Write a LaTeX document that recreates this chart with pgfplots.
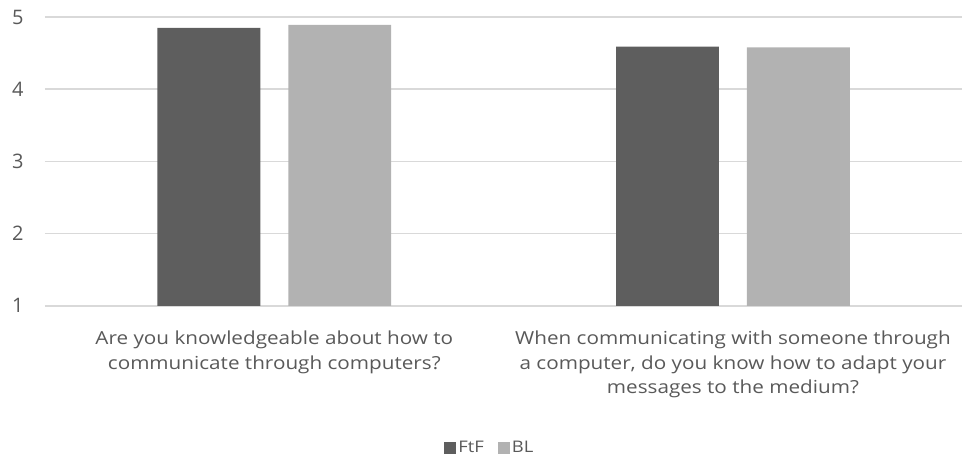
\documentclass[border=0pt]{standalone}
\usepackage{fontspec}
\setmainfont{Open Sans}[FakeStretch=1.15]
\newfontfamily\tickfont{Open Sans}
\usepackage{pgfplots}
\pgfplotsset{compat=1.18}
\definecolor{ftf}{HTML}{5E5E5E}
\definecolor{bl}{HTML}{B2B2B2}
\definecolor{gridc}{HTML}{D9D9D9}
\definecolor{txt}{HTML}{595959}
\begin{document}
\begin{tikzpicture}
\begin{axis}[
  scale only axis,
  width=918pt, height=289pt,
  xmin=-0.5, xmax=1.5,
  ymin=1, ymax=5,
  ybar=28pt, bar width=103pt,
  xtick=data,
  xticklabels={{Are you knowledgeable about how to\\communicate through computers?},{When communicating with someone through\\a computer, do you know how to adapt your\\messages to the medium?}},
  xticklabel style={align=center, font=\fontsize{18}{24.5}\selectfont, text=txt, yshift=-22pt},
  ytick={1,2,3,4,5},
  yticklabel style={font=\tickfont\fontsize{20}{24}\selectfont, text=txt, xshift=-18pt},
  /pgf/number format/assume math mode=true,
  major tick length=0pt,
  axis line style={draw=none},
  ymajorgrids, grid style={gridc, line width=1.5pt},
  legend style={at={(0.485,-0.491)}, anchor=center, draw=none, legend columns=2,
    font=\fontsize{16}{18}\selectfont, text=txt,
    /tikz/every even column/.append style={column sep=12pt}},
  legend image code/.code={\fill[#1] (0pt,-6pt) rectangle (12pt,6pt);},
]
\addplot[fill=ftf, draw=none] coordinates {(0,4.85) (1,4.59)};
\addplot[fill=bl, draw=none] coordinates {(0,4.89) (1,4.58)};
\legend{FtF, BL}
\end{axis}
\path[use as bounding box] (-45pt,-155pt) rectangle (918pt,306pt);
\end{tikzpicture}
\end{document}
